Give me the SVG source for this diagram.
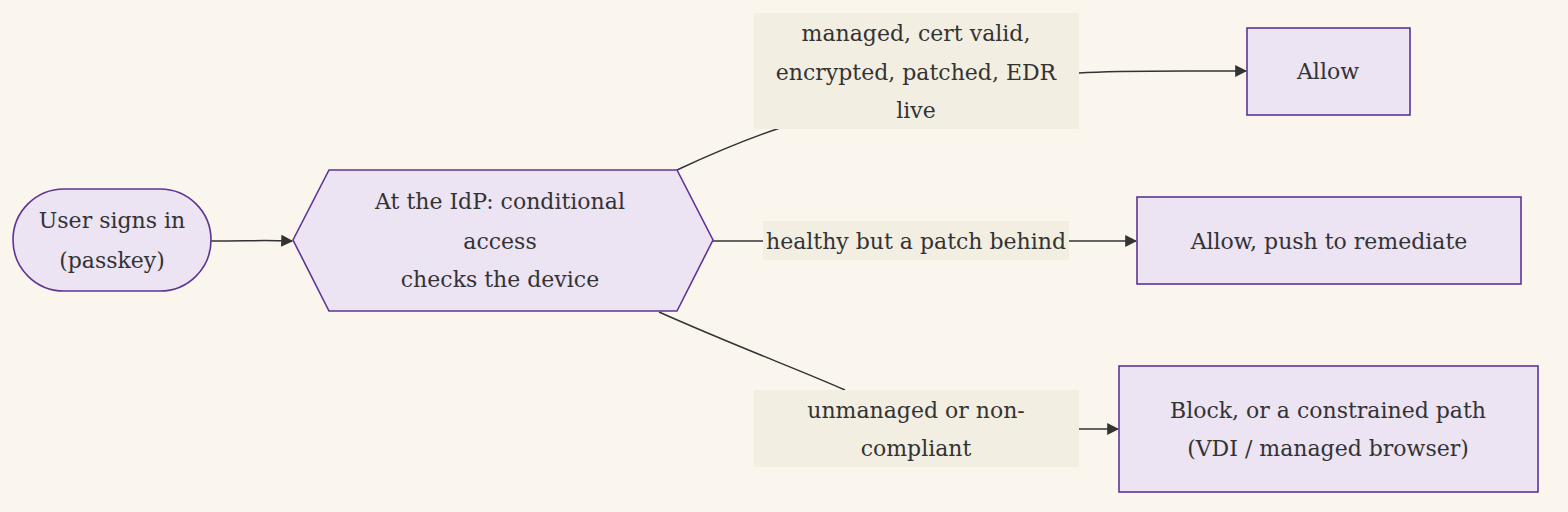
<svg xmlns="http://www.w3.org/2000/svg" width="1568" height="512" viewBox="0 0 1568 512">
<style>
.n{fill:#ece3f3;stroke:#5e3494;stroke-width:1.6}
.l{fill:#f3eee2}
.e{fill:none;stroke:#333;stroke-width:1.5}
text{font-family:"DejaVu Serif","Liberation Serif",serif;font-size:22px;fill:#333;text-anchor:middle;dominant-baseline:central}
</style>
<defs><marker id="a" viewBox="0 0 10 10" refX="9" refY="5" markerWidth="8" markerHeight="8" orient="auto"><path d="M0,0L10,5L0,10z" fill="#333"/></marker></defs>
<rect width="1568" height="512" fill="#faf6ee"/>
<g id="connectors">
<path class="e" d="M211,241 C250,241 260,240 292,241" marker-end="url(#a)"/>
<path class="e" d="M677,170 C720,150 750,138 780,128"/>
<path class="e" d="M1079,73 C1120,70 1180,71 1246,71" marker-end="url(#a)"/>
<path class="e" d="M713,241 L763,241"/>
<path class="e" d="M1069,241 L1136,241" marker-end="url(#a)"/>
<path class="e" d="M659,312 C740,348 800,370 845,390"/>
<path class="e" d="M1079,429 L1118,429" marker-end="url(#a)"/>
</g>
<g id="l1"><rect class="l" x="754" y="13" width="325" height="116"/><text x="916" y="33">managed, cert valid,</text><text x="916" y="72">encrypted, patched, EDR</text><text x="916" y="110">live</text></g>
<g id="l2"><rect class="l" x="763" y="221" width="306" height="39"/><text x="916" y="241">healthy but a patch behind</text></g>
<g id="l3"><rect class="l" x="754" y="390" width="325" height="77"/><text x="916" y="410">unmanaged or non-</text><text x="916" y="448">compliant</text></g>
<g id="start"><rect class="n" x="13" y="189" width="198" height="102" rx="51"/><text x="112" y="220">User signs in</text><text x="112" y="260">(passkey)</text></g>
<g id="check"><polygon class="n" points="293,240 329,170 677,170 713,240 677,311 329,311"/><text x="500" y="201">At the IdP: conditional</text><text x="500" y="241">access</text><text x="500" y="279">checks the device</text></g>
<g id="allow"><rect class="n" x="1247" y="28" width="163" height="87"/><text x="1328" y="71">Allow</text></g>
<g id="remediate"><rect class="n" x="1137" y="197" width="384" height="87"/><text x="1329" y="241">Allow, push to remediate</text></g>
<g id="block"><rect class="n" x="1119" y="366" width="419" height="126"/><text x="1328" y="410">Block, or a constrained path</text><text x="1328" y="448">(VDI / managed browser)</text></g>
</svg>
